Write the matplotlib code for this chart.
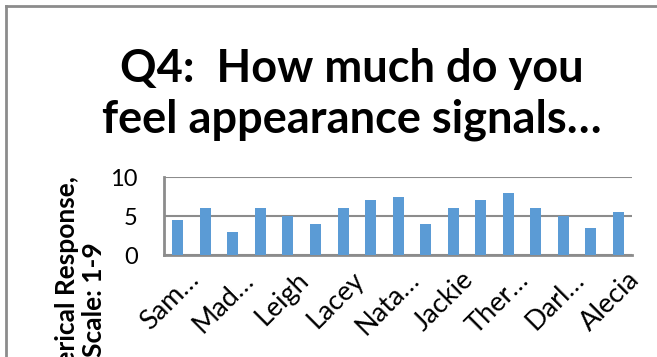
import matplotlib
matplotlib.use("Agg")
import matplotlib.pyplot as plt
from matplotlib.lines import Line2D
from matplotlib.transforms import ScaledTranslation

plt.rcParams["font.family"] = ["Lato", "DejaVu Sans"]

# Q4 numerical responses, one bar per participant
values = [4.5, 6, 3, 6, 5, 4, 6, 7, 7.5, 4, 6, 7, 8, 6, 5, 3.5, 5.5]
# only every second category gets a label on the axis
tick_labels = ["Sam…", "Mad…", "Leigh", "Lacey", "Nata…", "Jackie", "Ther…", "Darl…", "Alecia"]
y_ticks = [0, 5, 10]

bar_color = "#5B9BD5"
grid_color = "#8C8C8C"

fig = plt.figure(figsize=(6.57, 3.57), dpi=100)
ax = fig.add_axes([0.2496, 0.2857, 0.7127, 0.2185])

x = list(range(len(values)))
ax.bar(x, values, width=0.4, color=bar_color, zorder=3)

ax.set_xlim(-0.5, len(values) - 0.5)
ax.set_ylim(0, 10)
ax.set_yticks(y_ticks)
ax.set_yticklabels([str(t) for t in y_ticks], fontsize=17)
ax.set_xticks(x[::2])
ax.set_xticklabels(tick_labels, fontsize=19.5, rotation=45, ha="right", va="center",
                   rotation_mode="anchor")
ax.tick_params(axis="y", length=0, pad=19)
ax.tick_params(axis="x", length=0, pad=0)

# shift the slanted labels so their ends sit just right of and below each tick
shift = ScaledTranslation(12 / 72, -15 / 72, fig.dpi_scale_trans)
for lbl in ax.get_xticklabels():
    lbl.set_transform(lbl.get_transform() + shift)

ax.yaxis.grid(True, color=grid_color, linewidth=1.5, zorder=0)
for side in ("top", "right"):
    ax.spines[side].set_visible(False)
for side in ("left", "bottom"):
    ax.spines[side].set_color(grid_color)
    ax.spines[side].set_linewidth(2)

fig.text(0.535, 0.735, "Q4:  How much do you\nfeel appearance signals…",
         ha="center", va="center", fontsize=32.5, fontweight="bold",
         linespacing=1.25)

fig.text(0.123, 0.162, "Numerical Response,\nScale: 1-9", rotation=90,
         ha="center", va="center", fontsize=19, fontweight="bold",
         linespacing=1.15)

# chart frame
fig.add_artist(Line2D([0.0085, 0.0085], [0.0, 0.983], transform=fig.transFigure,
                      color=grid_color, linewidth=2))
fig.add_artist(Line2D([0.0085, 1.0], [0.983, 0.983], transform=fig.transFigure,
                      color=grid_color, linewidth=2))

fig.savefig("out.png", dpi=100)
